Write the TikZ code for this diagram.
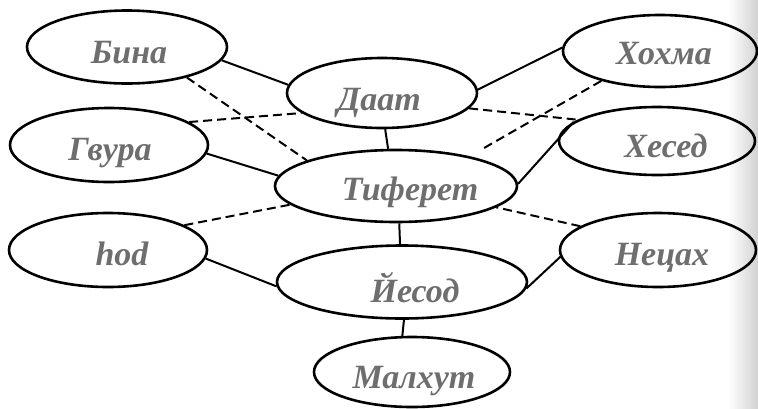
\documentclass[tikz,border=0pt]{standalone}
\usepackage{fontspec}
\setmainfont{Liberation Serif}
\usetikzlibrary{shapes.geometric}
\definecolor{namegray}{RGB}{110,110,110}
\tikzset{
  sefira/.style={ellipse, draw, line width=2.6pt, inner sep=0pt},
  sefname/.style={anchor=base, inner sep=0pt, text=namegray,
    font=\fontsize{34}{36}\selectfont\bfseries\itshape},
  link/.style={line width=2pt},
  dashlink/.style={line width=2pt, dash pattern=on 9pt off 5pt}
}
\begin{document}
\begin{tikzpicture}[x=1pt,y=-1pt]
\useasboundingbox (0,0) rectangle (758,408);

% фон справа
\shade[left color=white,right color=black!18] (728,0) rectangle (758,408);

% сфирот
\node[sefira, minimum width=200pt, minimum height=73pt] (bina) at (127,47) {};
\node[sefira, minimum width=194pt, minimum height=72pt] (hokhma) at (660,51) {};
\node[sefira, minimum width=190pt, minimum height=70pt] (daat) at (382,93) {};
\node[sefira, minimum width=198pt, minimum height=74pt] (gvura) at (109,145) {};
\node[sefira, minimum width=196pt, minimum height=68pt] (hesed) at (657,141) {};
\node[sefira, minimum width=242pt, minimum height=72pt] (tiferet) at (396,186) {};
\node[sefira, minimum width=198pt, minimum height=74pt] (hod) at (108,250) {};
\node[sefira, minimum width=196pt, minimum height=74pt] (netsah) at (658,250) {};
\node[sefira, minimum width=250pt, minimum height=73pt] (yesod) at (402,282) {};
\node[sefira, minimum width=196pt, minimum height=70pt] (malkhut) at (412,372) {};

% названия
\node[sefname] (bina-t) at (129,63) {Бина};
\node[sefname] (hokhma-t) at (664,64) {Хохма};
\node[sefname] (daat-t) at (379,110) {Даат};
\node[sefname] (gvura-t) at (110,160) {Гвура};
\node[sefname] (hesed-t) at (666,157) {Хесед};
\node[sefname] (tiferet-t) at (410,200) {Тиферет};
\node[sefname] (hod-t) at (122,265) {hod};
\node[sefname] (netsah-t) at (662,265) {Нецах};
\node[sefname] (yesod-t) at (415,302) {Йесод};
\node[sefname] (malkhut-t) at (414,388) {Малхут};

% сплошные связи
\draw[link] (bina.-8) -- (daat.175);
\draw[link] (gvura.-5) -- (tiferet.175);
\draw[link] (daat.2) -- (hokhma.178);
\draw[link] (tiferet.1) -- (hesed.167);
\draw[link] (daat.-85) -- (tiferet.102);
\draw[link] (tiferet.-85) -- (yesod.93);
\draw[link] (hod.-5) -- (yesod.182);
\draw[link] (netsah.184) -- (yesod.-3);
\draw[link] (yesod.-87) -- (malkhut.105);

% пунктирные связи
\draw[dashlink] (bina.-27) -- (tiferet.164);
\draw[dashlink] (gvura.16) -- (daat.194);
\draw[dashlink] (daat.-10) -- (hesed.165);
\draw[dashlink, shorten >=13pt] (hokhma.207) -- (tiferet.22);
\draw[dashlink] (hod.18) -- (tiferet.190);
\draw[dashlink] (netsah.163) -- (tiferet.-12);

\end{tikzpicture}
\end{document}
